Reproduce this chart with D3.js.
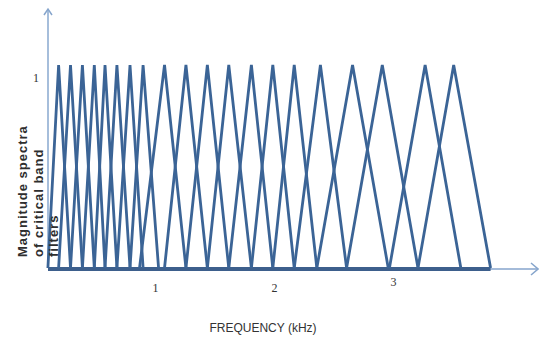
<!DOCTYPE html>
<html>
<head>
<meta charset="utf-8">
<script src="https://cdn.jsdelivr.net/npm/d3@7"></script>
<style>
  body { margin: 0; background: #fff; }
  svg { display: block; }
</style>
</head>
<body>
<div id="chart"></div>
<script>
// critical band filters, frequencies in kHz
const lowEdges  = [0.10, 0.19, 0.29, 0.39, 0.49, 0.58, 0.68, 0.79, 0.87, 1.08, 1.26, 1.44, 1.62, 1.81, 1.99, 2.17, 2.36, 2.61, 2.97, 3.21];
const centers   = [0.19, 0.29, 0.39, 0.49, 0.58, 0.68, 0.79, 0.90, 1.08, 1.26, 1.44, 1.62, 1.81, 1.99, 2.17, 2.39, 2.66, 2.91, 3.27, 3.51];
const highEdges = [0.29, 0.39, 0.49, 0.58, 0.68, 0.79, 0.90, 1.03, 1.26, 1.44, 1.62, 1.81, 1.99, 2.17, 2.36, 2.61, 2.96, 3.21, 3.57, 3.82];
const peakValue = 1;
const xTicks = [1, 2, 3];
const yTicks = [1];

const width = 539;
const height = 343;

const svg = d3.select('#chart')
  .append('svg')
  .attr('width', width)
  .attr('height', height);

// scales
const x = d3.scaleLinear().domain([1, 3]).range([155, 393]);
const y = d3.scaleLinear().domain([0, 1]).range([268, 65]);

const axisX0 = 48;
const lineColor = '#3b6496';
const axisColor = '#86a5cc';

// y axis with arrow
svg.append('line')
  .attr('x1', axisX0).attr('x2', axisX0)
  .attr('y1', y(0)).attr('y2', 10)
  .attr('stroke', '#a6bedb')
  .attr('stroke-width', 2);
svg.append('path')
  .attr('d', `M${axisX0 - 4},15 L${axisX0},9 L${axisX0 + 4},15`)
  .attr('fill', 'none')
  .attr('stroke', axisColor)
  .attr('stroke-width', 1.5);

// x axis with arrow
svg.append('line')
  .attr('x1', axisX0).attr('x2', 537)
  .attr('y1', y(0) + 1).attr('y2', y(0) + 1)
  .attr('stroke', axisColor)
  .attr('stroke-width', 1.5);
svg.append('path')
  .attr('d', `M531,${y(0) - 5} L538,${y(0) + 1} L531,${y(0) + 7}`)
  .attr('fill', 'none')
  .attr('stroke', axisColor)
  .attr('stroke-width', 1.5);

// thick baseline under the filters
svg.append('line')
  .attr('x1', axisX0).attr('x2', x(d3.max(highEdges)))
  .attr('y1', y(0) + 1).attr('y2', y(0) + 1)
  .attr('stroke', '#3d5f8c')
  .attr('stroke-width', 4);

// triangular filters
const filters = centers.map((c, i) => [
  [lowEdges[i], 0], [c, peakValue], [highEdges[i], 0]
]);

const line = d3.line()
  .x(d => x(d[0]))
  .y(d => y(d[1]));

svg.append('g')
  .selectAll('path')
  .data(filters)
  .enter()
  .append('path')
  .attr('d', line)
  .attr('fill', 'none')
  .attr('stroke', lineColor)
  .attr('stroke-width', 2.8)
  .attr('stroke-linejoin', 'miter');

// tick labels
const xAxis = svg.append('g')
  .attr('transform', `translate(0, ${y(0) + 14})`)
  .call(d3.axisBottom(x).tickValues(xTicks).tickSize(0).tickFormat(d3.format('d')));
xAxis.select('.domain').remove();
xAxis.selectAll('text')
  .attr('font-family', 'Liberation Serif, serif')
  .attr('font-size', 12)
  .attr('fill', '#333')
  .attr('dy', d => d === 3 ? '0.1em' : '0.55em');

const yAxis = svg.append('g')
  .attr('transform', 'translate(42, 13)')
  .call(d3.axisLeft(y).tickValues(yTicks).tickSize(0).tickFormat(d3.format('d')));
yAxis.select('.domain').remove();
yAxis.selectAll('text')
  .attr('font-family', 'Liberation Serif, serif')
  .attr('font-size', 12)
  .attr('fill', '#333');

// axis titles
svg.append('text')
  .attr('x', 263)
  .attr('y', 332)
  .attr('text-anchor', 'middle')
  .attr('font-family', 'Liberation Sans, Arial, sans-serif')
  .attr('font-size', 12)
  .attr('fill', '#333')
  .text('FREQUENCY (kHz)');

const yTitle = ['Magnitude spectra', 'of critical band', 'filters'];
svg.append('g')
  .selectAll('text')
  .data(yTitle)
  .enter()
  .append('text')
  .attr('transform', (d, i) => `translate(${27 + i * 15.5}, 257) rotate(-90)`)
  .attr('text-anchor', 'start')
  .attr('font-family', 'Liberation Sans, Arial, sans-serif')
  .attr('font-size', 13)
  .attr('font-weight', 'bold')
  .attr('letter-spacing', '1px')
  .attr('fill', '#2e2e2e')
  .text(d => d);
</script>
</body>
</html>
